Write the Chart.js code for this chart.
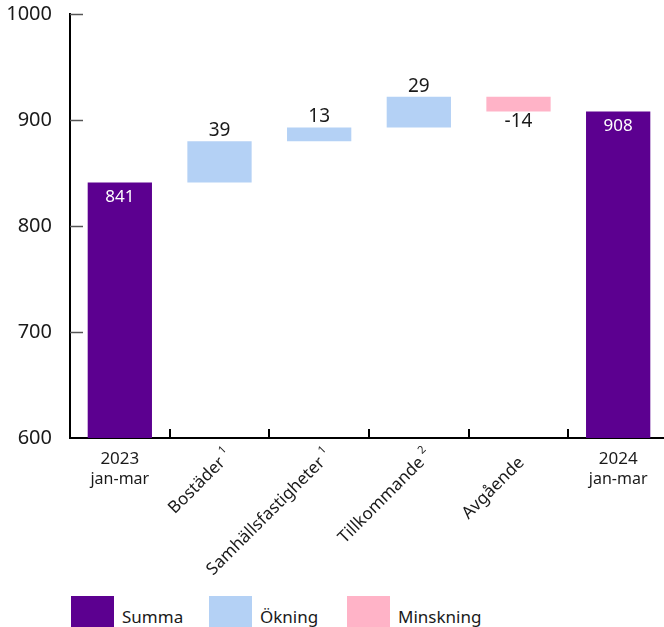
<!DOCTYPE html>
<html lang="sv">
<head>
<meta charset="utf-8">
<title>Förändring jan-mar 2023 till 2024</title>
<script src="https://cdn.jsdelivr.net/npm/chart.js@4.4.1/dist/chart.umd.min.js"></script>
<style>
  html, body { margin: 0; padding: 0; background: #fff; overflow: hidden; }
  body { width: 664px; height: 627px; position: relative; font-family: "Noto Sans", sans-serif; }
  #chartBox { position: absolute; left: 0; top: 0; width: 668px; height: 590px; }
  #legend { position: absolute; left: 71px; top: 595px; display: flex; }
  .legend-item { width: 138px; display: flex; align-items: center; }
  .legend-box { width: 43px; height: 31px; margin-right: 8px; }
  .legend-text { font-size: 17px; color: #1a1a1a; padding-top: 10px; }
</style>
</head>
<body>
<div id="chartBox"><canvas id="waterfall"></canvas></div>
<div id="legend"></div>
<script>
// Kategorier (rad 1 / rad 2 för summorna) och fotnoter
const categories = ['2023', 'Bostäder', 'Samhällsfastigheter', 'Tillkommande', 'Avgående', '2024'];
const subLabels = ['jan-mar', '', '', '', '', 'jan-mar'];
const footnotes = ['', '1', '1', '2', '', ''];

// Summor och förändringar
const sumValues = [841, null, null, null, null, 908];
const changeValues = [null, 39, 13, 29, -14, null];

// Y-axelns ticks
const yTicks = [600, 700, 800, 900, 1000];

const colors = {
  summa: '#5c0090',
  okning: '#b4d1f5',
  minskning: '#ffb3c7'
};

// Bygg flytande staplar utifrån löpande summa
const sumBars = [];
const incBars = [];
const decBars = [];
let running = 0;
categories.forEach((c, i) => {
  if (sumValues[i] !== null) {
    running = sumValues[i];
    sumBars.push([yTicks[0], sumValues[i]]);
    incBars.push(null);
    decBars.push(null);
  } else {
    const start = running;
    running += changeValues[i];
    sumBars.push(null);
    if (changeValues[i] >= 0) {
      incBars.push([start, running]);
      decBars.push(null);
    } else {
      incBars.push(null);
      decBars.push([running, start]);
    }
  }
});

const FONT = '"Noto Sans", sans-serif';

// Ticks, kategorietiketter och värdeetiketter
const waterfallPlugin = {
  id: 'waterfallDecor',
  afterDraw(chart) {
    const ctx = chart.ctx;
    const area = chart.chartArea;
    const xs = chart.scales.x;
    const ys = chart.scales.y;
    ctx.save();

    // inåtriktade ticks på y-axeln
    ctx.strokeStyle = '#555';
    ctx.lineWidth = 1.5;
    yTicks.slice(1).forEach(v => {
      const y = Math.round(ys.getPixelForValue(v)) + 0.5;
      ctx.beginPath();
      ctx.moveTo(area.left, y);
      ctx.lineTo(area.left + 13, y);
      ctx.stroke();
    });

    // ticks mellan kategorierna
    ctx.strokeStyle = '#000';
    ctx.lineWidth = 2;
    for (let i = 0; i < categories.length - 1; i++) {
      const x = Math.round((xs.getPixelForValue(i) + xs.getPixelForValue(i + 1)) / 2);
      ctx.beginPath();
      ctx.moveTo(x, area.bottom);
      ctx.lineTo(x, area.bottom - 9);
      ctx.stroke();
    }

    // kategorietiketter
    ctx.fillStyle = '#1a1a1a';
    categories.forEach((label, i) => {
      const cx = xs.getPixelForValue(i);
      if (subLabels[i]) {
        ctx.textAlign = 'center';
        ctx.textBaseline = 'middle';
        ctx.font = '17px ' + FONT;
        ctx.fillText(label, cx, area.bottom + 21);
        ctx.font = '16px ' + FONT;
        ctx.fillText(subLabels[i], cx, area.bottom + 41);
      } else {
        ctx.save();
        ctx.translate(cx + 3, area.bottom + 22);
        ctx.rotate(-Math.PI / 4);
        ctx.textAlign = 'right';
        ctx.textBaseline = 'middle';
        ctx.font = '17px ' + FONT;
        ctx.fillText(label, 0, 0);
        if (footnotes[i]) {
          ctx.textAlign = 'left';
          ctx.font = '11px ' + FONT;
          ctx.fillText(footnotes[i], 4, -7);
        }
        ctx.restore();
      }
    });

    // värdeetiketter
    ctx.textAlign = 'center';
    categories.forEach((c, i) => {
      const cx = xs.getPixelForValue(i);
      if (sumValues[i] !== null) {
        ctx.fillStyle = '#fff';
        ctx.font = '17px ' + FONT;
        ctx.textBaseline = 'top';
        ctx.fillText(String(sumValues[i]), cx, ys.getPixelForValue(sumValues[i]) + 6);
      } else if (changeValues[i] >= 0) {
        ctx.fillStyle = '#1a1a1a';
        ctx.font = '19px ' + FONT;
        ctx.textBaseline = 'bottom';
        ctx.fillText(String(changeValues[i]), cx, ys.getPixelForValue(incBars[i][1]) - 1);
      } else {
        ctx.fillStyle = '#1a1a1a';
        ctx.font = '19px ' + FONT;
        ctx.textBaseline = 'top';
        ctx.fillText(String(changeValues[i]), cx, ys.getPixelForValue(decBars[i][0]) + 1);
      }
    });

    ctx.restore();
  }
};

const chart = new Chart(document.getElementById('waterfall'), {
  type: 'bar',
  data: {
    labels: categories,
    datasets: [
      { label: 'Summa', data: sumBars, backgroundColor: colors.summa },
      { label: 'Ökning', data: incBars, backgroundColor: colors.okning },
      { label: 'Minskning', data: decBars, backgroundColor: colors.minskning }
    ]
  },
  options: {
    responsive: true,
    maintainAspectRatio: false,
    animation: false,
    layout: { padding: { top: 14, right: 0, bottom: 144, left: 0 } },
    datasets: {
      bar: { grouped: false, categoryPercentage: 1, barPercentage: 0.645 }
    },
    plugins: {
      legend: { display: false },
      tooltip: { enabled: false }
    },
    scales: {
      x: {
        grid: { display: false },
        border: { color: '#000', width: 2 },
        ticks: { display: false }
      },
      y: {
        min: yTicks[0],
        max: yTicks[yTicks.length - 1],
        afterFit(scale) {
          scale.width = 70;
          scale.paddingTop = 0;
          scale.paddingBottom = 0;
        },
        afterBuildTicks(scale) { scale.ticks = yTicks.map(v => ({ value: v })); },
        grid: { display: false },
        border: { color: '#000', width: 2 },
        ticks: {
          color: '#1a1a1a',
          padding: 10,
          font: { size: 20, family: FONT },
          callback: v => String(v)
        }
      }
    }
  },
  plugins: [waterfallPlugin]
});

// Förklaring under diagrammet
const legendEl = document.getElementById('legend');
chart.data.datasets.forEach(ds => {
  const item = document.createElement('div');
  item.className = 'legend-item';
  const box = document.createElement('div');
  box.className = 'legend-box';
  box.style.background = ds.backgroundColor;
  const text = document.createElement('span');
  text.className = 'legend-text';
  text.textContent = ds.label;
  item.appendChild(box);
  item.appendChild(text);
  legendEl.appendChild(item);
});
</script>
</body>
</html>
